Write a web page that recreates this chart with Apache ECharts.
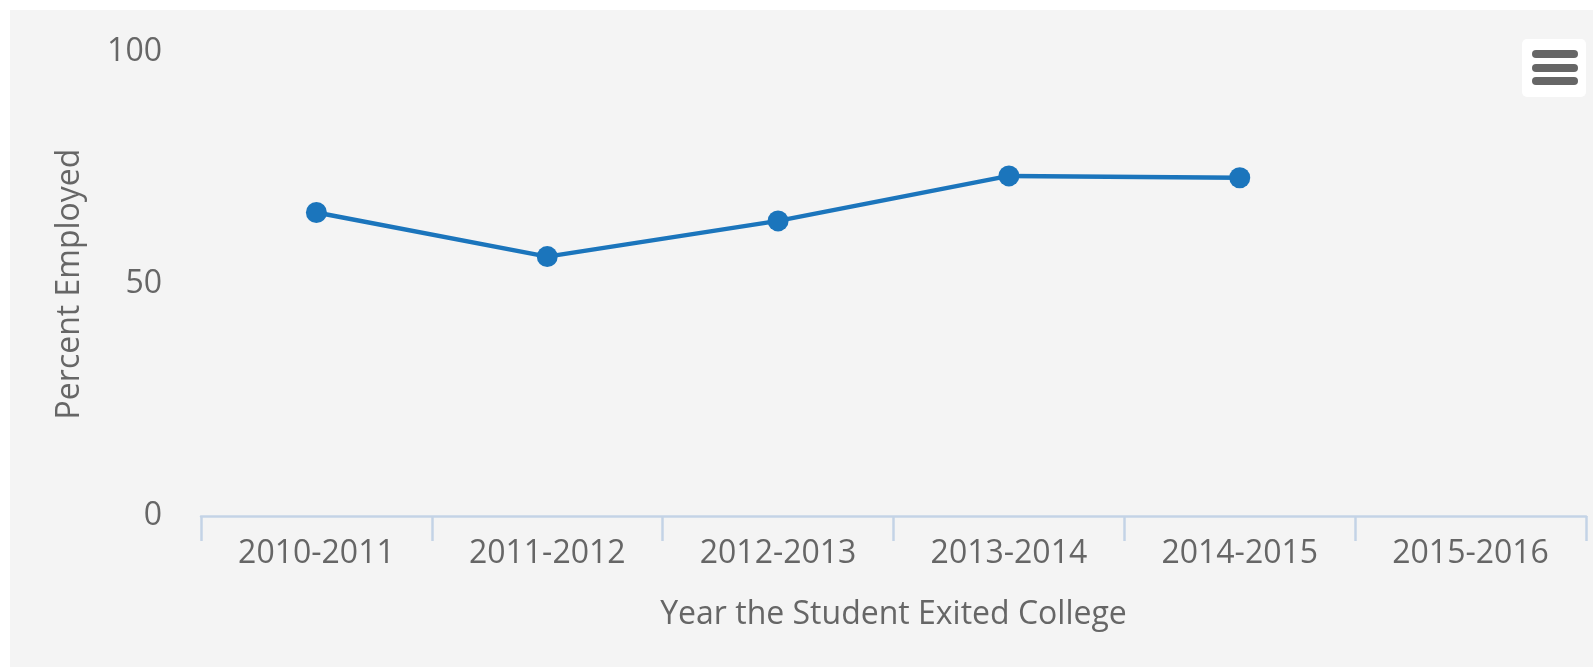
<!DOCTYPE html>
<html>
<head>
<meta charset="utf-8">
<script src="https://cdn.jsdelivr.net/npm/echarts@6/dist/echarts.min.js"></script>
<style>
html,body{margin:0;padding:0;background:#ffffff;}
#chart{width:1593px;height:667px;}
</style>
</head>
<body>
<div id="chart"></div>
<script>
const categories = ['2010-2011','2011-2012','2012-2013','2013-2014','2014-2015','2015-2016'];
const percentEmployed = [65.4, 55.9, 63.6, 73.3, 72.9, null];
const yTicks = [0, 50, 100];

const chart = echarts.init(document.getElementById('chart'));
const font = '"Open Sans", "Noto Sans", sans-serif';
chart.setOption({
  animation: false,
  backgroundColor: '#ffffff',
  graphic: [
    { type: 'rect', z: -10, silent: true, shape: { x: 10, y: 10, width: 1583, height: 657 }, style: { fill: '#f4f4f4' } },
    { type: 'rect', z: 10, shape: { x: 1522, y: 39, width: 64, height: 58, r: 5 }, style: { fill: '#ffffff' } },
    { type: 'rect', z: 11, shape: { x: 1532, y: 50, width: 46, height: 8, r: 4 }, style: { fill: '#666666' } },
    { type: 'rect', z: 11, shape: { x: 1532, y: 64, width: 46, height: 8, r: 4 }, style: { fill: '#666666' } },
    { type: 'rect', z: 11, shape: { x: 1532, y: 77, width: 46, height: 8, r: 4 }, style: { fill: '#666666' } }
  ],
  grid: { left: 201, right: 7, top: 52, bottom: 151, containLabel: false },
  xAxis: {
    type: 'category',
    data: categories,
    boundaryGap: true,
    name: 'Year the Student Exited College',
    nameLocation: 'middle',
    nameGap: 99,
    nameTextStyle: { color: '#666666', fontSize: 32, fontFamily: font, verticalAlign: 'middle' },
    axisLine: { lineStyle: { color: '#c4d3e6', width: 2.5 } },
    axisTick: { show: true, length: 25, lineStyle: { color: '#c4d3e6', width: 2.5 } },
    axisLabel: { color: '#666666', fontSize: 32, fontFamily: font, margin: 38, verticalAlign: 'middle' },
    splitLine: { show: false }
  },
  yAxis: {
    type: 'value',
    min: yTicks[0],
    max: yTicks[yTicks.length - 1],
    interval: yTicks[1] - yTicks[0],
    name: 'Percent Employed',
    nameLocation: 'middle',
    nameGap: 131,
    nameTextStyle: { color: '#666666', fontSize: 32, fontFamily: font, verticalAlign: 'middle' },
    axisLine: { show: false },
    axisTick: { show: false },
    splitLine: { show: false },
    axisLabel: { color: '#666666', fontSize: 32, fontFamily: font, margin: 39, padding: [0, 0, 12, 0] }
  },
  series: [{
    type: 'line',
    data: percentEmployed,
    symbol: 'circle',
    symbolSize: 21,
    lineStyle: { color: '#1b75bc', width: 4.5 },
    itemStyle: { color: '#1b75bc' },
    connectNulls: false
  }]
});
</script>
</body>
</html>
